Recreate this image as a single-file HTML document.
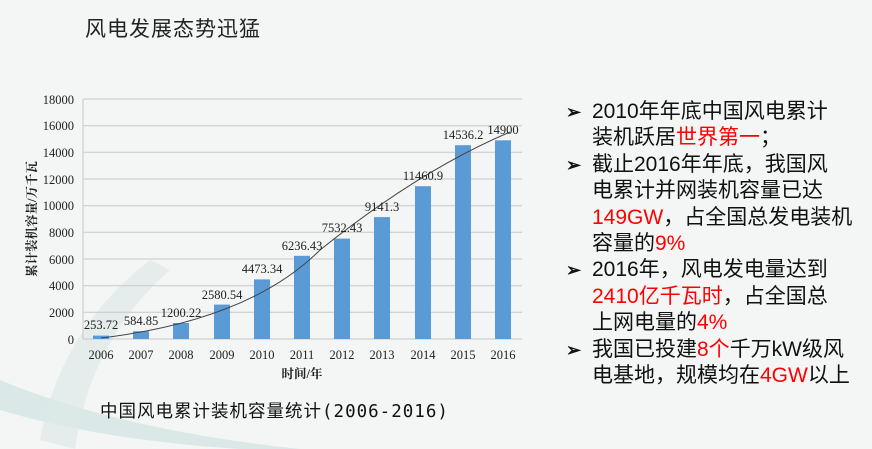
<!DOCTYPE html><html><head><meta charset="utf-8"><style>
body{margin:0;width:872px;height:449px;overflow:hidden;background:#f4f5f5;font-family:"Liberation Sans","Noto Sans CJK SC",sans-serif;position:relative}
.t{position:absolute;white-space:nowrap}
.r{color:#f00}
#list{position:absolute;left:566px;top:99px;font-size:21px;line-height:26.4px;color:#111;font-family:"Liberation Sans Narrow","Liberation Sans","WenQuanYi Zen Hei",sans-serif}
#list div{position:relative;padding-left:26px;white-space:nowrap}
#list .a{position:absolute;left:0;font-size:18px;font-weight:bold}
</style></head><body>
<svg width="872" height="449" style="position:absolute;left:0;top:0">
<path d="M0,380 Q120,430 300,449 L240,449 Q100,440 0,410Z" fill="#d3e6e3" opacity="0.8"/>
<path d="M40,440 Q60,330 150,260 L170,270 Q90,340 75,449Z" fill="#dde9e7" opacity="0.7"/>
<g font-family="Liberation Serif,serif" font-size="12.5" fill="#222">
<g stroke="#c8c8c8" stroke-width="1">
<line x1="83" x2="522" y1="99" y2="99"/><line x1="83" x2="522" y1="125.7" y2="125.7"/><line x1="83" x2="522" y1="152.3" y2="152.3"/><line x1="83" x2="522" y1="179" y2="179"/><line x1="83" x2="522" y1="205.7" y2="205.7"/><line x1="83" x2="522" y1="232.3" y2="232.3"/><line x1="83" x2="522" y1="259" y2="259"/><line x1="83" x2="522" y1="285.7" y2="285.7"/><line x1="83" x2="522" y1="312.3" y2="312.3"/>
<line x1="83" x2="522" y1="339" y2="339"/><line x1="83" x2="83" y1="99" y2="339"/>
</g>
<g text-anchor="end"><text x="74" y="104">18000</text><text x="74" y="130">16000</text><text x="74" y="157">14000</text><text x="74" y="184">12000</text><text x="74" y="210">10000</text><text x="74" y="237">8000</text><text x="74" y="264">6000</text><text x="74" y="290">4000</text><text x="74" y="317">2000</text><text x="74" y="344">0</text></g>
<g fill="#5b9bd5">
<rect x="93" y="335.6" width="16" height="3.4"/><rect x="133" y="331.2" width="16" height="7.8"/><rect x="173" y="323" width="16" height="16"/><rect x="214" y="304.6" width="16" height="34.4"/><rect x="254" y="279.4" width="16" height="59.6"/><rect x="294" y="255.8" width="16" height="83.2"/><rect x="334" y="238.6" width="16" height="100.4"/><rect x="374" y="217.1" width="16" height="121.9"/><rect x="415" y="186.2" width="16" height="152.8"/><rect x="455" y="145.2" width="16" height="193.8"/><rect x="495" y="140.3" width="16" height="198.7"/>
</g>
<path d="M101,338 Q250,320 320,250 Q420,170 510,132" fill="none" stroke="#444" stroke-width="1"/>
<g text-anchor="middle">
<text x="101" y="329">253.72</text><text x="141" y="325">584.85</text><text x="181" y="317">1200.22</text><text x="222" y="299">2580.54</text><text x="262" y="273">4473.34</text><text x="302" y="250">6236.43</text><text x="342" y="232">7532.43</text><text x="382" y="211">9141.3</text><text x="423" y="180">11460.9</text><text x="463" y="139">14536.2</text><text x="503" y="134">14900</text>
<text x="101" y="359">2006</text><text x="141" y="359">2007</text><text x="181" y="359">2008</text><text x="222" y="359">2009</text><text x="262" y="359">2010</text><text x="302" y="359">2011</text><text x="342" y="359">2012</text><text x="382" y="359">2013</text><text x="423" y="359">2014</text><text x="463" y="359">2015</text><text x="503" y="359">2016</text>
<text x="302" y="378" font-weight="bold" font-family="Liberation Serif,Noto Serif CJK SC,serif">时间/年</text>
<text transform="translate(36,219) rotate(-90)" font-weight="bold" font-family="Liberation Serif,Noto Serif CJK SC,serif">累计装机容量/万千瓦</text>
</g></g></svg>
<div class="t" style="left:85px;top:13px;font-size:21px;letter-spacing:1px;color:#222;font-family:'WenQuanYi Zen Hei',sans-serif">风电发展态势迅猛</div>
<div class="t" style="left:100px;top:398px;font-size:17.5px;letter-spacing:1px;font-family:'WenQuanYi Zen Hei Mono','WenQuanYi Zen Hei',monospace;color:#111">中国风电累计装机容量统计(2006-2016)</div>
<div id="list">
<div><span class="a">➢</span>2010年年底中国风电累计</div>
<div>装机跃居<span class="r">世界第一</span>；</div>
<div><span class="a">➢</span>截止2016年年底，我国风</div>
<div>电累计并网装机容量已达</div>
<div><span class="r">149GW</span>，占全国总发电装机</div>
<div>容量的<span class="r">9%</span></div>
<div><span class="a">➢</span>2016年，风电发电量达到</div>
<div><span class="r">2410亿千瓦时</span>，占全国总</div>
<div>上网电量的<span class="r">4%</span></div>
<div><span class="a">➢</span>我国已投建<span class="r">8个</span>千万kW级风</div>
<div>电基地，规模均在<span class="r">4GW</span>以上</div>
</div>
</body></html>
